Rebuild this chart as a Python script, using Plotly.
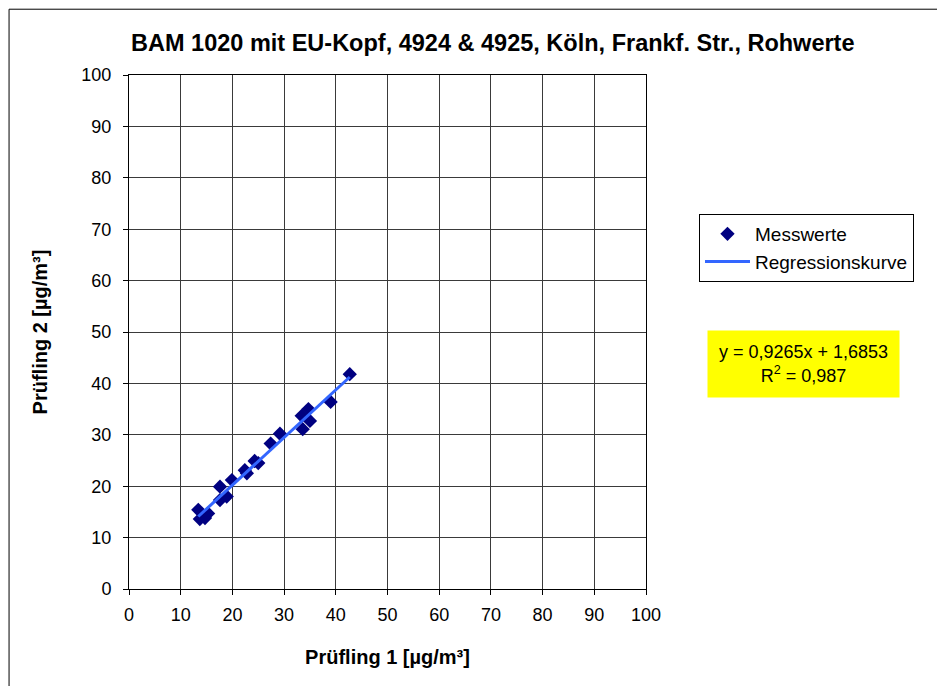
import numpy as np
import plotly.graph_objects as go

pruefling1 = [42.7, 39.0, 34.7, 33.4, 35.0, 33.6, 29.2, 27.4, 25.0, 24.3,
              22.4, 22.8, 19.9, 17.6, 18.9, 17.6, 13.4, 15.3, 13.7, 14.7]
pruefling2 = [41.8, 36.4, 35.0, 33.7, 32.7, 31.1, 30.2, 28.3, 24.5, 24.9,
              23.1, 22.5, 21.2, 19.9, 18.0, 17.3, 15.4, 14.7, 13.6, 13.8]

slope, intercept, r2 = 0.9265, 1.6853, 0.987
ticks = list(range(0, 101, 10))

FONT = "Arial, Liberation Sans, sans-serif"

x_fit = np.array([min(pruefling1), max(pruefling1)])
y_fit = slope * x_fit + intercept

fig = go.Figure()
fig.add_trace(go.Scatter(x=pruefling1, y=pruefling2, mode="markers", name="Messwerte",
    marker=dict(symbol="diamond", color="#000080", size=11)))
fig.add_trace(go.Scatter(x=x_fit, y=y_fit, mode="lines", name="Regressionskurve",
    line=dict(color="#3366FF", width=3)))

axis = dict(range=[0, 100], tickvals=ticks, showgrid=True, gridcolor="#3a3a3a", gridwidth=1,
            showline=True, linecolor="#000000", linewidth=1, mirror=True,
            ticks="outside", ticklen=5, tickcolor="#000000", zeroline=False,
            tickfont=dict(family=FONT, size=18, color="#000000"))
fig.update_xaxes(**axis, ticklabelstandoff=4,
                 title=dict(text="<b>Prüfling 1 [µg/m³]</b>", standoff=26,
                            font=dict(family=FONT, size=20, color="#000000")))
fig.update_yaxes(**axis, ticklabelstandoff=8,
                 title=dict(text="<b>Prüfling 2 [µg/m³]</b>", standoff=28,
                            font=dict(family=FONT, size=20, color="#000000")))

fig.update_layout(
    width=945, height=686,
    margin=dict(l=121, r=307, t=67, b=105),
    plot_bgcolor="#FFFFFF", paper_bgcolor="#FFFFFF",
    font=dict(family=FONT, size=16, color="#000000"),
    title=dict(text="<b>BAM 1020 mit EU-Kopf, 4924 & 4925, Köln, Frankf. Str., Rohwerte</b>",
               x=0.513, xanchor="center", y=0.950, yanchor="middle",
               font=dict(family=FONT, size=23.5, color="#000000")),
    legend=dict(x=1.1025, y=0.7296, xanchor="left", yanchor="top",
                bordercolor="#000000", borderwidth=1, bgcolor="#FFFFFF",
                font=dict(family=FONT, size=19, color="#000000"),
                itemwidth=45),
    showlegend=True,
)

fig.add_annotation(xref="paper", yref="paper", x=1.3046, y=0.4377,
    xanchor="center", yanchor="middle",
    text=f"y = {slope:.4f}x + {intercept:.4f}".replace(".", ",") + "<br>"
         + f"R<sup>2</sup> = {r2:.3f}".replace(".", ","),
    showarrow=False, bgcolor="#FFFF00", width=189, height=64, align="center",
    font=dict(family=FONT, size=18, color="#000000"))

# outer chart border
fig.add_shape(type="rect", xref="paper", yref="paper", x0=-0.232, x1=1.6, y0=-0.25, y1=1.128,
              line=dict(color="#000000", width=1), layer="below")

fig.write_html("out.html")
